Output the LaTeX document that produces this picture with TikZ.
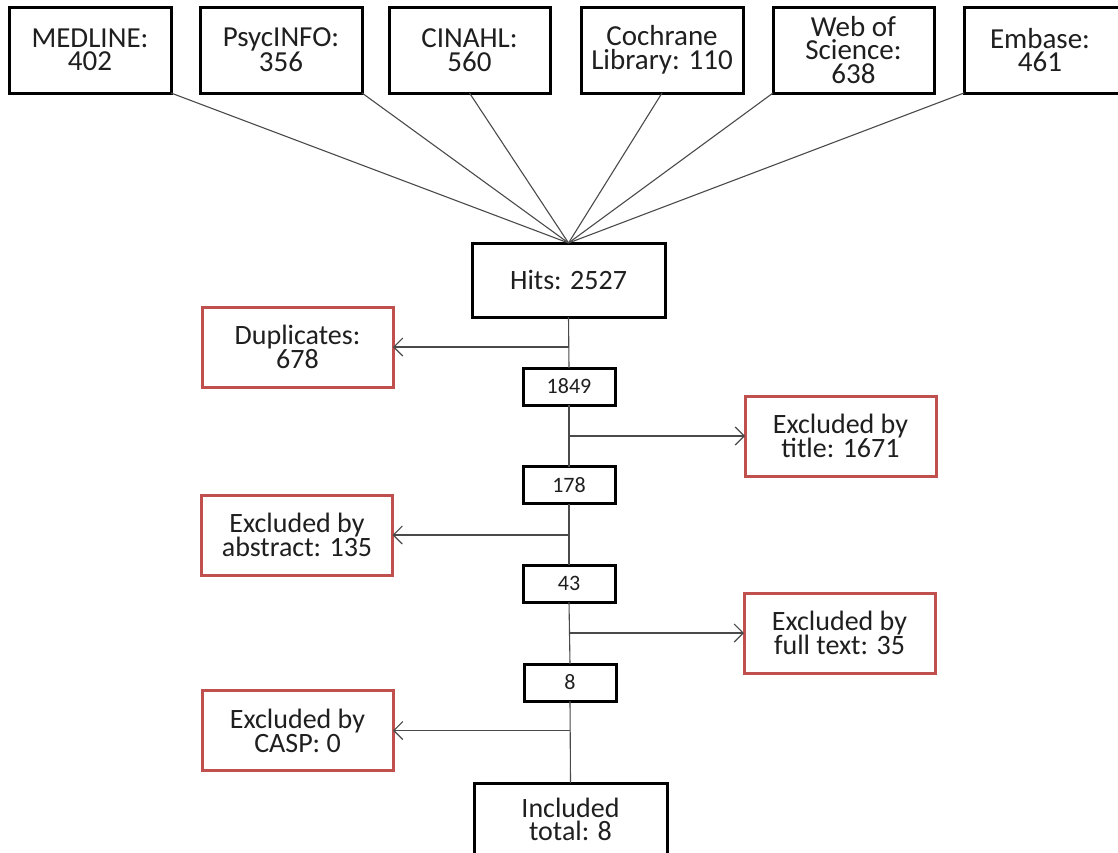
\documentclass[tikz,border=0pt]{standalone}
\usepackage{fontspec}
\setmainfont{Carlito}
\usetikzlibrary{arrows.meta}
\definecolor{redbox}{HTML}{C0504D}
\definecolor{linegray}{HTML}{4A4A4A}
\begin{document}
\begin{tikzpicture}[x=1pt,y=-1pt,
  base/.style={draw, rectangle, fill=white, inner sep=0pt, outer sep=0pt, align=center, text=black!88},
  topbox/.style={base, line width=3pt, minimum width=162pt, minimum height=86pt, font=\fontsize{29}{23.5}\selectfont},
  hitbox/.style={base, line width=3pt, minimum width=193pt, minimum height=74pt, font=\fontsize{28}{26}\selectfont},
  numbox/.style={base, line width=3pt, minimum width=92pt, minimum height=37pt, font=\fontsize{22}{22}\selectfont},
  redbx/.style={base, draw=redbox, line width=3pt, minimum width=191pt, minimum height=80pt, font=\fontsize{28}{24}\selectfont},
  conn/.style={draw=linegray, line width=1.1pt},
  arr/.style={conn, -{Straight Barb[length=9pt,width=18pt,line width=1.1pt]}}
]
\useasboundingbox (0,0) rectangle (1118,852);
\clip (0,0) rectangle (1118,852);
\fill[white] (0,0) rectangle (1118,852);

% top boxes
\node[topbox] (med) at (90,50) {MEDLINE:\\402};
\node[topbox] (psy) at (281,50) {PsycINFO:\\356};
\node[topbox, minimum width=161pt] (cin) at (469.5,50) {CINAHL:\\560};
\node[topbox] (coc) at (662,50) {Cochrane\\Library: 110};
\node[topbox, minimum width=161pt] (web) at (853.5,50) {Web of\\Science:\\638};
\node[topbox, minimum width=161pt] (emb) at (1044.5,50) {\hspace*{-9pt}Embase:\\\hspace*{-9pt}461};

% hits and counts
\node[hitbox] (hits) at (568.5,280) {Hits: 2527};
\node[numbox] (n1849) at (569,386.5) {1849};
\node[numbox] (n178) at (569,485) {178};
\node[numbox] (n43) at (569,583.5) {43};
\node[numbox] (n8) at (570,682.5) {8};
\node[topbox, minimum width=193pt, minimum height=72pt, font=\fontsize{28}{23}\selectfont] (incl) at (570.5,819) {Included\\total: 8};

% exclusion boxes
\node[redbx] (dup) at (297.5,347) {Duplicates:\\678};
\node[redbx] (tit) at (840.5,436) {Excluded by\\title: 1671};
\node[redbx] (abs) at (297,535) {Excluded by\\abstract: 135};
\node[redbx] (ful) at (839.5,633) {Excluded by\\full text: 35};
\node[redbx] (cas) at (297.5,730.5) {Excluded by\\CASP: 0};

% converging lines
\draw[conn] (med.south east) -- (hits.north);
\draw[conn] (psy.south east) -- (hits.north);
\draw[conn] (cin.south) -- (hits.north);
\draw[conn] (coc.south) -- (hits.north);
\draw[conn] (web.south west) -- (hits.north);
\draw[conn] (emb.south west) -- (hits.north);

% vertical flow
\draw[conn] (hits.south) -- (n1849.north);
\draw[conn] (n1849.south) -- (n178.north);
\draw[conn] (n178.south) -- (n43.north);
\draw[conn] (n43.south) -- (n8.north);
\draw[conn] (n8.south) -- (incl.north);

% side arrows
\draw[arr] (hits.south |- dup.east) -- (dup.east);
\draw[arr] (n1849.south |- tit.west) -- (tit.west);
\draw[arr] (n178.south |- abs.east) -- (abs.east);
\draw[arr] (n43.south |- ful.west) -- (ful.west);
\draw[arr] (n8.south |- cas.east) -- (cas.east);
\end{tikzpicture}
\end{document}
